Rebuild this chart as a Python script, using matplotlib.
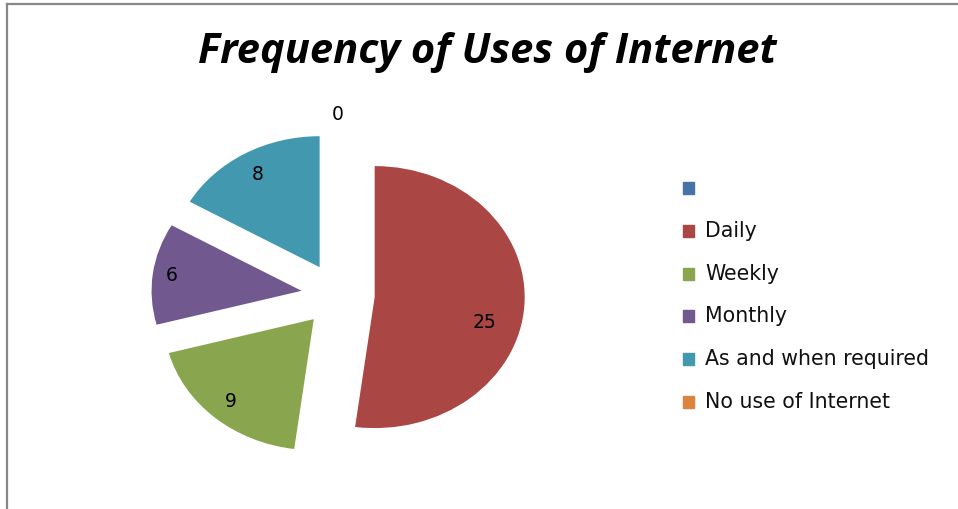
import numpy as np
import matplotlib.pyplot as plt
from matplotlib.lines import Line2D
from matplotlib.patches import Rectangle

# Survey counts, first entry is an unnamed (empty) category
categories = ["", "Daily", "Weekly", "Monthly", "As and when required", "No use of Internet"]
counts = [0, 25, 9, 6, 8, 0]
colors = ["#4572A7", "#AA4643", "#89A54E", "#71588F", "#4198AF", "#DB843D"]

# label distance (fraction of radius) and angular nudge (deg) per slice
label_r = [0.0, 0.76, 0.84, 0.87, 0.82, 1.13]
label_nudge = [0, -11, 0, 0, 0, 0]

W, H = 958, 509
cx, cy = 338, 295        # pie centre in pixels
rx, ry = 150, 131        # horizontal / vertical radius in pixels
explode_amt = 0.245

TITLE_FONT = "Open Sans"
BODY_FONT = "DejaVu Sans"

fig = plt.figure(figsize=(W / 100, H / 100), dpi=100)
ax = fig.add_axes([0, 0, 1, 1])

wedges, _ = ax.pie(counts, colors=colors, startangle=90, counterclock=False,
                   explode=[explode_amt] * len(counts), radius=1.0,
                   wedgeprops=dict(linewidth=0))
ax.set_aspect("auto")
ax.set_xlim(-cx / rx, (W - cx) / rx)
ax.set_ylim((cy - H) / ry, cy / ry)
ax.axis("off")

# value labels, placed along each wedge's bisector from its exploded centre
for w, val, name, lr, nud in zip(wedges, counts, categories, label_r, label_nudge):
    if not name:
        continue
    mid = np.deg2rad((w.theta1 + w.theta2) / 2 + nud)
    x0, y0 = w.center
    ax.text(x0 + lr * np.cos(mid), y0 + lr * np.sin(mid), f"{val}",
            ha="center", va="center", fontsize=13.5, family=BODY_FONT, color="black")

fig.text(0.509, 0.897, "Frequency of Uses of Internet", ha="center", va="center",
         fontsize=30, fontweight="bold", style="italic", family=TITLE_FONT)

# legend drawn by hand: square swatch + label
leg_x, leg_y0, leg_dy = 683, 188, 42.8
for i, (name, c) in enumerate(zip(categories, colors)):
    py = leg_y0 + i * leg_dy
    fig.patches.append(Rectangle((leg_x / W, 1 - (py + 6) / H), 11 / W, 12 / H,
                                 transform=fig.transFigure, color=c))
    if name:
        fig.text((leg_x + 22) / W, 1 - py / H, name, ha="left", va="center",
                 fontsize=14.8, family=BODY_FONT, color="#111111")

# chart frame (top and left edges visible)
fig.add_artist(Line2D([7 / W, 1], [1 - 4 / H, 1 - 4 / H], color="#888888", lw=1.6,
                      transform=fig.transFigure))
fig.add_artist(Line2D([7 / W, 7 / W], [0, 1 - 4 / H], color="#888888", lw=1.6,
                      transform=fig.transFigure))

fig.savefig("out.png", dpi=100)
